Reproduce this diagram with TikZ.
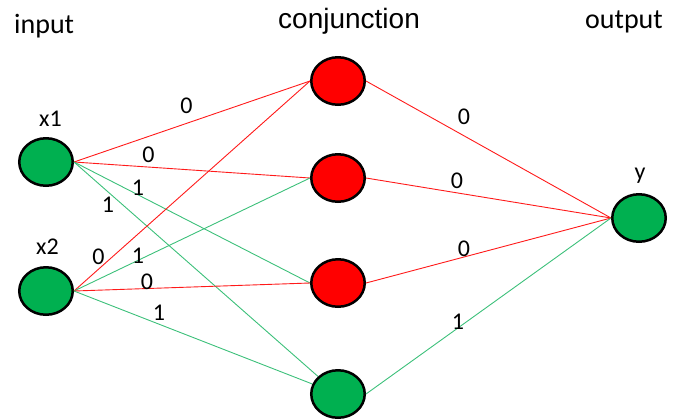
\documentclass[tikz,border=0pt]{standalone}
\usepackage{fontspec}
\setmainfont{Carlito}
\newfontfamily\arialf{Liberation Sans}
\usetikzlibrary{shapes.geometric}
\definecolor{ngreen}{HTML}{00B050}
\definecolor{egreen}{HTML}{3CC07A}
\definecolor{ered}{HTML}{FF1A1A}
\begin{document}
\begin{tikzpicture}[x=1bp,y=-1bp,
  neuron/.style={ellipse,draw=black,line width=2.5bp,inner sep=0,minimum width=53.5bp,minimum height=47.5bp},
  gn/.style={neuron,fill=ngreen},
  rn/.style={neuron,fill=red},
  redge/.style={draw=ered,line width=0.9bp},
  gedge/.style={draw=egreen,line width=0.9bp},
  wl/.style={font=\fontsize{24bp}{24bp}\selectfont,inner sep=0},
  nl/.style={font=\fontsize{24bp}{24bp}\selectfont,inner sep=0,anchor=base},
  title/.style={font=\fontsize{28bp}{28bp}\selectfont,inner sep=0,anchor=base west}]
\useasboundingbox (0,0) rectangle (681,419);
% titles
\node[title] (tin) at (14,33) {input};
\node[title,font=\fontsize{28bp}{28bp}\arialf] (tconj) at (278,28) {conjunction};
\node[title] (tout) at (585,28) {output};
% nodes
\node[gn] (x1) at (46,162) {};
\node[gn] (x2) at (46,291) {};
\node[rn] (c1) at (338,81) {};
\node[rn] (c2) at (338,178) {};
\node[rn] (c3) at (338,283) {};
\node[gn] (c4) at (338,394) {};
\node[gn] (y) at (639,218) {};
% node labels
\node[nl] (lx1) at (50.5,126) {x1};
\node[nl] (lx2) at (47.5,254) {x2};
\node[nl] (ly) at (640,179) {y};
% edges input -> conjunction
\draw[redge] (x1.east) -- (c1.west);
\draw[redge] (x1.east) -- (c2.west);
\draw[gedge] (x1.east) -- (c3.west);
\draw[gedge] (x1.east) -- (c4);
\draw[redge] (x2.east) -- (c1.west);
\draw[gedge] (x2.east) -- (c2.west);
\draw[redge] (x2.east) -- (c3.west);
\draw[gedge] (x2.east) -- (c4);
% edges conjunction -> output
\draw[redge] (c1.east) -- (y.west);
\draw[redge] (c2.east) -- (y.west);
\draw[redge] (c3.east) -- (y.west);
\draw[gedge] (c4.east) -- (y.west);
% weight labels
\node[wl] (w11) at (186.5,105.5) {0};
\node[wl] (w12) at (148.5,154.5) {0};
\node[wl] (w13) at (138,187.5) {1};
\node[wl] (w14) at (108,204.5) {1};
\node[wl] (w21) at (98.5,256.5) {0};
\node[wl] (w22) at (138,255.5) {1};
\node[wl] (w23) at (147,281.5) {0};
\node[wl] (w24) at (159,312.5) {1};
\node[wl] (v1) at (464,116.5) {0};
\node[wl] (v2) at (457,180.5) {0};
\node[wl] (v3) at (464,248.5) {0};
\node[wl] (v4) at (458,321.5) {1};
\end{tikzpicture}
\end{document}
